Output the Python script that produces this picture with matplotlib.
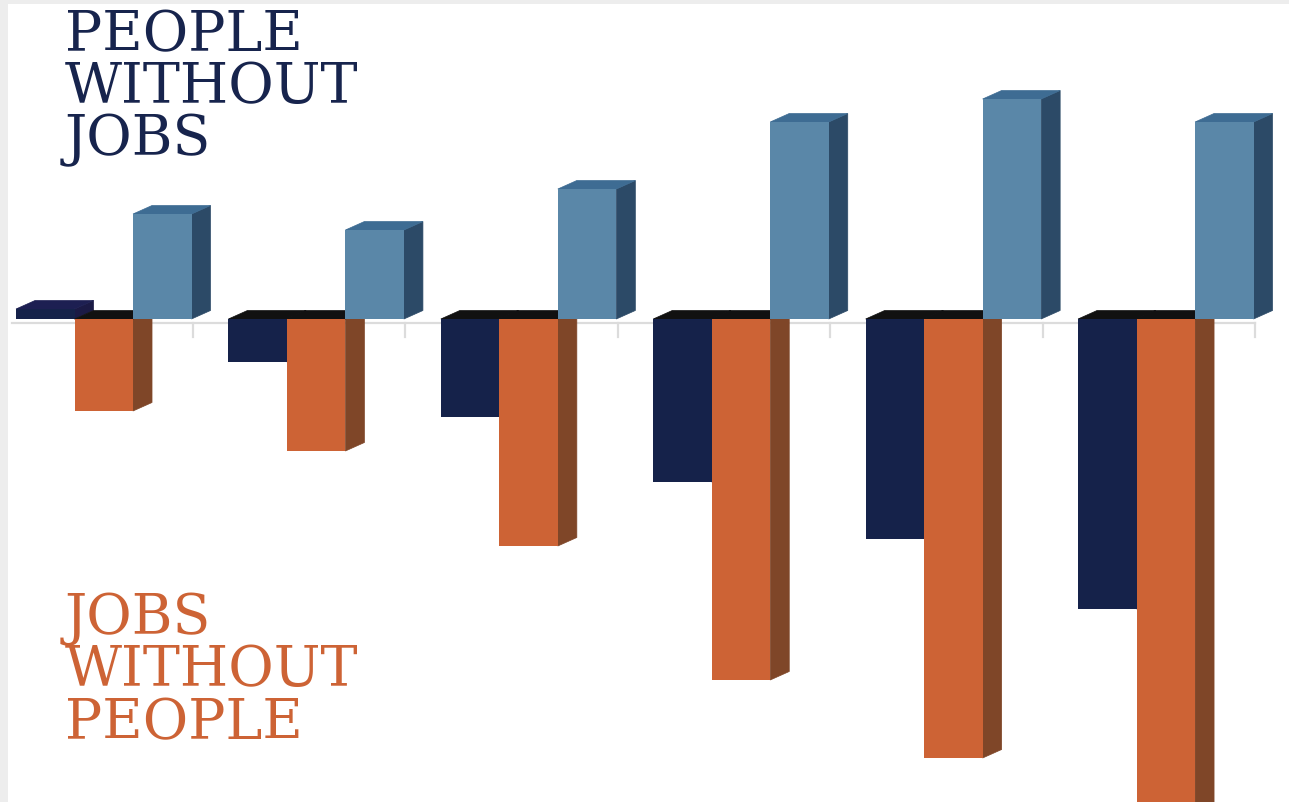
import matplotlib
matplotlib.use("Agg")
import matplotlib.pyplot as plt
from matplotlib.patches import Polygon, Rectangle

# bar heights (arbitrary units, 0 = baseline)
groups = [0, 1, 2, 3, 4, 5]
navy_vals = [1.0, -4.3, -9.8, -16.3, -22.0, -29.0]
orange_vals = [-9.2, -13.2, -22.7, -36.1, -43.9, -50.0]
blue_vals = [10.5, 8.9, 13.0, 19.7, 22.0, 19.7]

top_lines = ["PEOPLE", "WITHOUT", "JOBS"]
bottom_lines = ["JOBS", "WITHOUT", "PEOPLE"]

NAVY = "#15224a"
ORANGE = "#cd6335"
BLUE = "#5a87a8"

W = 0.2754      # bar width in group units
DX = 0.0895     # depth of the fake 3d side
DY = 0.85       # rise of the fake 3d top


def bar3d(ax, x, heights, color, side, top, z):
    """ Draws bars with a side and a top face so they look 3d """
    bars = ax.bar(x, heights, W, color=color, linewidth=0, zorder=z + 1)
    for rect, h in zip(bars, heights):
        x0 = rect.get_x()
        x1 = x0 + rect.get_width()
        lo, hi = min(h, 0), max(h, 0)
        ax.add_patch(Polygon([(x1, lo), (x1 + DX, lo + DY), (x1 + DX, hi + DY), (x1, hi)],
                             closed=True, fc=side, ec=side, lw=0.5, zorder=z))
        # top face is black when the bar hangs below the baseline
        tc = top if h > 0 else "#111111"
        ax.add_patch(Polygon([(x0, hi), (x0 + DX, hi + DY), (x1 + DX, hi + DY), (x1, hi)],
                             closed=True, fc=tc, ec=tc, lw=0.5, zorder=z))
    return bars


fig = plt.figure(figsize=(12.89, 8.02), dpi=100)
ax = fig.add_axes([0, 0, 1, 1])
ax.axis("off")
ax.set_xlim(-0.4885, 5.580)
ax.set_ylim(-48.3, 31.9)

# baseline with small ticks between groups
ax.plot([-0.43, 5.42], [-0.4, -0.4], color="#dcdcdc", lw=1.6, zorder=1)
for g in groups:
    ax.plot([g + 0.42, g + 0.42], [-0.4, -1.8], color="#dcdcdc", lw=1.6, zorder=1)

bar3d(ax, [g - W for g in groups], navy_vals, NAVY, "#1b1a45", "#1d1f52", 2)
bar3d(ax, groups, orange_vals, ORANGE, "#7f4628", "#8a4a2a", 4)
bar3d(ax, [g + W for g in groups], blue_vals, BLUE, "#2c4a67", "#3e6c93", 6)

# headline text, one block each; va=baseline pins the last line
fig.text(65 / 1289, 1 - 155.5 / 802, "\n".join(top_lines), color="#17244d",
         family="DejaVu Serif", fontsize=40, va="baseline", ha="left",
         linespacing=0.94, zorder=10)
fig.text(65 / 1289, 1 - 739 / 802, "\n".join(bottom_lines), color=ORANGE,
         family="DejaVu Serif", fontsize=40, va="baseline", ha="left",
         linespacing=0.95, zorder=10)

# soft grey frame edge on the left and top
fig.patches.append(Rectangle((0, 0), 8 / 1289, 1, transform=fig.transFigure,
                             color="#ededed", lw=0, zorder=0))
fig.patches.append(Rectangle((0, 1 - 4 / 802), 1, 4 / 802, transform=fig.transFigure,
                             color="#ededed", lw=0, zorder=0))

fig.savefig("out.png", dpi=100)
